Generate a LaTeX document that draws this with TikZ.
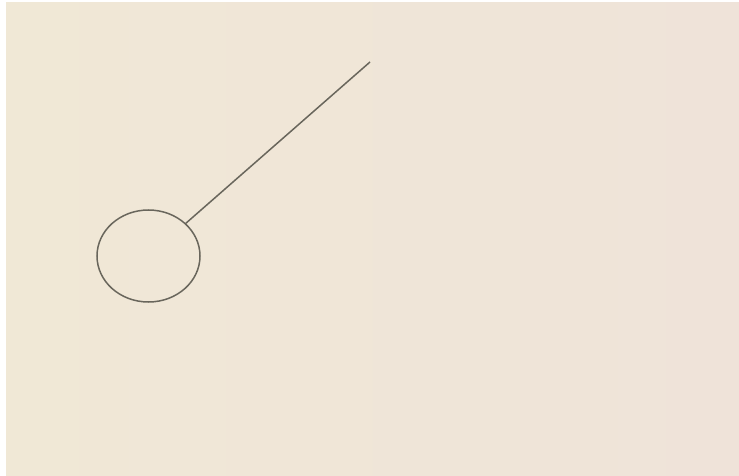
\documentclass[tikz,border=0pt]{standalone}
\usepackage{xcolor}
\usepackage{tikz}
\usetikzlibrary{shapes.geometric}
\definecolor{paperL}{RGB}{240,232,214}
\definecolor{paperR}{RGB}{239,227,217}
\definecolor{pencil}{RGB}{105,102,92}
\begin{document}
\begin{tikzpicture}[x=1pt,y=-1pt]
\useasboundingbox[fill=white](0,0)rectangle(739,476);
\shade[left color=paperL,right color=paperR](6,3)rectangle(739,476);
\node[shape=ellipse,draw=pencil,line width=1.5pt,minimum width=103pt,minimum height=92pt,inner sep=0pt](bob)at(148.5,256){};
\coordinate(pivot)at(370,62);
\draw[pencil,line width=1.5pt](bob)--(pivot);
\end{tikzpicture}
\end{document}
